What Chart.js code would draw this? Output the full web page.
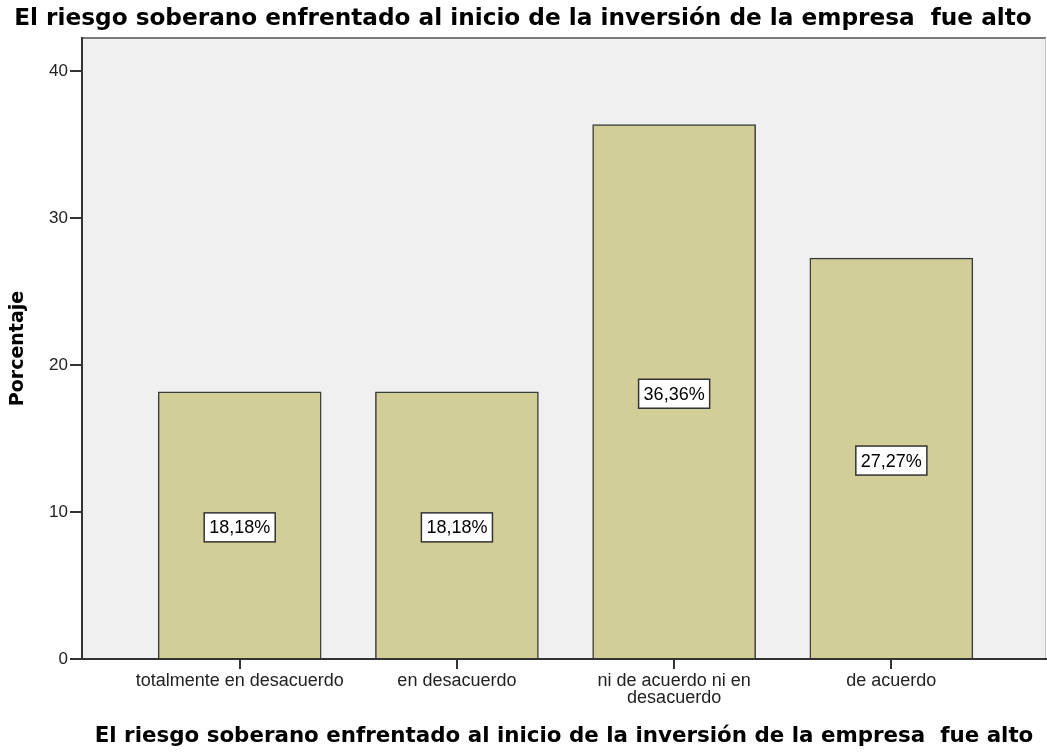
<!DOCTYPE html>
<html>
<head>
<meta charset="utf-8">
<script src="https://cdn.jsdelivr.net/npm/chart.js@4.4.1/dist/chart.umd.min.js"></script>
<style>
  html, body { margin: 0; padding: 0; background: #fff; }
  #wrap { width: 1047px; height: 752px; position: relative; }
</style>
</head>
<body>
<div id="wrap"><canvas id="riesgoChart"></canvas></div>
<script>
// Riesgo soberano - porcentaje por respuesta
const TITLE = 'El riesgo soberano enfrentado al inicio de la inversión de la empresa  fue alto';
const categories = [
  'totalmente en desacuerdo',
  'en desacuerdo',
  ['ni de acuerdo ni en', 'desacuerdo'],
  'de acuerdo'
];
const porcentajes = [18.18, 18.18, 36.36, 27.27];
const etiquetas = ['18,18%', '18,18%', '36,36%', '27,27%'];
const yTicks = [0, 10, 20, 30, 40];

const BAR_FILL = '#D2CE98';
const BAR_EDGE = '#3c3c3c';
const PLOT_BG = '#F0F0F0';
const AXIS = '#333333';

// ── plot background + frame ─────────────────────────────
const plotFrame = {
  id: 'plotFrame',
  beforeDraw(chart) {
    const { ctx, chartArea: a } = chart;
    ctx.save();
    ctx.fillStyle = PLOT_BG;
    ctx.fillRect(a.left, a.top, a.right - a.left, a.bottom - a.top);
    ctx.strokeStyle = '#7a7a7a';
    ctx.lineWidth = 2;
    ctx.beginPath();
    ctx.moveTo(a.left, a.top);
    ctx.lineTo(a.right, a.top);
    ctx.stroke();
    ctx.strokeStyle = '#c4c4c4';
    ctx.lineWidth = 1;
    ctx.beginPath();
    ctx.moveTo(a.right - 0.5, a.top);
    ctx.lineTo(a.right - 0.5, a.bottom);
    ctx.stroke();
    ctx.restore();
  }
};

// ── boxed value labels in the middle of each bar ────────
const boxLabels = {
  id: 'boxLabels',
  afterDatasetsDraw(chart) {
    const { ctx } = chart;
    const meta = chart.getDatasetMeta(0);
    const y = chart.scales.y;
    ctx.save();
    ctx.font = '18px "Liberation Sans", Arial, sans-serif';
    ctx.textAlign = 'center';
    ctx.textBaseline = 'middle';
    meta.data.forEach((bar, i) => {
      const cx = bar.x;
      const cy = y.getPixelForValue(porcentajes[i] / 2) + 2;
      const w = ctx.measureText(etiquetas[i]).width + 10;
      const h = 29;
      ctx.fillStyle = '#ffffff';
      ctx.fillRect(cx - w / 2, cy - h / 2, w, h);
      ctx.strokeStyle = '#333';
      ctx.lineWidth = 1.5;
      ctx.strokeRect(cx - w / 2, cy - h / 2, w, h);
      ctx.fillStyle = '#000';
      ctx.fillText(etiquetas[i], cx, cy + 1);
    });
    ctx.restore();
  }
};

new Chart(document.getElementById('riesgoChart'), {
  type: 'bar',
  data: {
    datasets: [{
      data: porcentajes.map((v, i) => ({ x: i, y: v })),
      backgroundColor: BAR_FILL,
      borderColor: BAR_EDGE,
      borderWidth: 1.5,
      barThickness: 163
    }]
  },
  plugins: [plotFrame, boxLabels],
  options: {
    responsive: true,
    maintainAspectRatio: false,
    animation: false,
    layout: { padding: { left: 0, right: 1, top: 0, bottom: 0 } },
    plugins: {
      legend: { display: false },
      tooltip: { enabled: false },
      title: {
        display: true,
        text: TITLE,
        color: '#000',
        font: { family: '"DejaVu Sans", sans-serif', size: 23.2, weight: 'bold' },
        padding: { top: 5, bottom: 5.2 }
      }
    },
    scales: {
      x: {
        type: 'linear',
        offset: false,
        min: -0.726,
        max: 3.712,
        afterBuildTicks: (s) => { s.ticks = categories.map((c, i) => ({ value: i })); },
        afterFit: (s) => { s.height = 93; },
        grid: { offset: false, drawOnChartArea: false, drawTicks: true, tickLength: 10, color: AXIS, lineWidth: 2 },
        border: { display: true, color: AXIS, width: 2 },
        ticks: {
          autoSkip: false,
          maxRotation: 0,
          padding: 3,
          color: '#222',
          font: { family: '"Liberation Sans", Arial, sans-serif', size: 18, lineHeight: 0.95 },
          callback: (v) => categories[v]
        },
        title: {
          display: true,
          text: TITLE,
          color: '#000',
          font: { family: '"DejaVu Sans", sans-serif', size: 21.4, weight: 'bold' },
          padding: { top: 0, bottom: 3 }
        }
      },
      y: {
        min: 0,
        max: 42.24,
        afterBuildTicks: (s) => { s.ticks = yTicks.map(v => ({ value: v })); },
        afterFit: (s) => { s.width = 82; },
        grid: { drawOnChartArea: false, drawTicks: true, tickLength: 12, color: AXIS, lineWidth: 2 },
        border: { display: true, color: AXIS, width: 2 },
        ticks: {
          padding: 2,
          color: '#222',
          font: { family: '"Liberation Sans", Arial, sans-serif', size: 17 }
        },
        title: {
          display: true,
          text: 'Porcentaje',
          color: '#000',
          font: { family: '"DejaVu Sans", sans-serif', size: 19, weight: 'bold' },
          padding: { top: 7, bottom: 0 }
        }
      }
    }
  }
});
</script>
</body>
</html>
